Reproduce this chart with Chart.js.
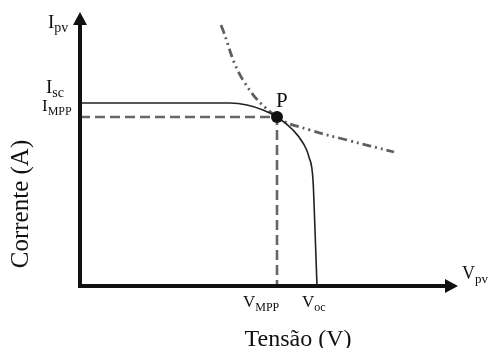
<!DOCTYPE html>
<html>
<head>
<meta charset="utf-8">
<script src="https://cdn.jsdelivr.net/npm/chart.js@4/dist/chart.umd.min.js"></script>
<style>
  html, body { margin: 0; padding: 0; background: #fff; }
  #wrap { width: 488px; height: 348px; position: relative; }
</style>
</head>
<body>
<div id="wrap"><canvas id="iv"></canvas></div>
<script>
// curva I-V do painel (tensão, corrente) em unidades arbitrárias
const ivTensao = [0, 150, 167, 183, 197, 213, 223, 229, 233, 235, 237];
const ivCorrente = [183, 183, 181, 176, 169, 156, 143, 129, 106, 56, 0];

// curva de potência constante passando por P
const potTensao = [141, 163, 197, 230, 267, 314];
const potCorrente = [261, 206, 169, 156, 146, 134];

// pontos notáveis
const Isc = 183;
const Impp = 169;
const Vmpp = 197;
const Voc = 237;
const eixoMax = { x: 378, y: 274 };

const serif = "'Liberation Serif', 'Times New Roman', serif";

function pares(xs, ys) {
  return xs.map(function (x, i) {
    return { x: x, y: ys[i] };
  });
}

// texto com subscrito: base + sub
function textoSub(ctx, base, sub, x, y, tam) {
  ctx.font = tam + "px " + serif;
  ctx.fillText(base, x, y);
  var w = ctx.measureText(base).width;
  ctx.font = Math.round(tam * 0.72) + "px " + serif;
  ctx.fillText(sub, x + w, y + tam * 0.22);
}

const eixosPlugin = {
  id: "eixos",
  afterDatasetsDraw(chart) {
    const ctx = chart.ctx;
    const sx = chart.scales.x;
    const sy = chart.scales.y;
    const x0 = sx.getPixelForValue(0);
    const y0 = sy.getPixelForValue(0);
    const xEnd = sx.getPixelForValue(eixoMax.x);
    const yEnd = sy.getPixelForValue(eixoMax.y);
    ctx.save();
    ctx.strokeStyle = "#111";
    ctx.fillStyle = "#111";
    ctx.lineWidth = 4;
    ctx.beginPath();
    ctx.moveTo(x0, y0);
    ctx.lineTo(x0, yEnd + 10);
    ctx.moveTo(x0 - 2, y0);
    ctx.lineTo(xEnd - 10, y0);
    ctx.stroke();
    // setas
    ctx.beginPath();
    ctx.moveTo(x0, yEnd);
    ctx.lineTo(x0 - 7, yEnd + 13);
    ctx.lineTo(x0 + 7, yEnd + 13);
    ctx.closePath();
    ctx.fill();
    ctx.beginPath();
    ctx.moveTo(xEnd, y0);
    ctx.lineTo(xEnd - 13, y0 - 7);
    ctx.lineTo(xEnd - 13, y0 + 7);
    ctx.closePath();
    ctx.fill();

    // ponto P
    const px = sx.getPixelForValue(Vmpp);
    const py = sy.getPixelForValue(Impp);
    ctx.beginPath();
    ctx.arc(px, py, 6, 0, Math.PI * 2);
    ctx.fill();

    // rótulos
    ctx.textBaseline = "alphabetic";
    ctx.textAlign = "left";
    textoSub(ctx, "I", "pv", x0 - 32, yEnd + 16, 19);
    textoSub(ctx, "I", "sc", x0 - 34, sy.getPixelForValue(Isc) - 10, 19);
    textoSub(ctx, "I", "MPP", x0 - 38, sy.getPixelForValue(Impp) - 6, 17);
    textoSub(ctx, "V", "MPP", px - 34, y0 + 21, 17);
    textoSub(ctx, "V", "oc", sx.getPixelForValue(Voc) - 15, y0 + 21, 17);
    textoSub(ctx, "V", "pv", xEnd + 4, y0 - 7, 18);
    ctx.font = "21px " + serif;
    ctx.fillText("P", px - 1, py - 10);

    ctx.textAlign = "center";
    ctx.font = "24px " + serif;
    ctx.fillText("Tensão (V)", 298, 346);
    ctx.translate(28, 204);
    ctx.rotate(-Math.PI / 2);
    ctx.font = "25px " + serif;
    ctx.fillText("Corrente (A)", 0, 0);
    ctx.restore();
  },
};

new Chart(document.getElementById("iv"), {
  type: "scatter",
  data: {
    datasets: [
      {
        data: pares(ivTensao, ivCorrente),
        showLine: true,
        borderColor: "#222",
        borderWidth: 1.6,
        pointRadius: 0,
        cubicInterpolationMode: "monotone",
      },
      {
        data: pares([0, Vmpp, Vmpp], [Impp, Impp, 0]),
        showLine: true,
        borderColor: "#666",
        borderWidth: 2.6,
        borderDash: [10, 5],
        pointRadius: 0,
      },
      {
        data: pares(potTensao, potCorrente),
        showLine: true,
        borderColor: "#5f5f5f",
        borderWidth: 2.8,
        borderDash: [9, 4, 2, 4, 2, 4],
        pointRadius: 0,
        tension: 0.4,
      },
    ],
  },
  options: {
    responsive: true,
    maintainAspectRatio: false,
    animation: false,
    layout: { padding: { left: 80, right: 30, top: 12, bottom: 62 } },
    scales: {
      x: { type: "linear", min: 0, max: eixoMax.x, display: false },
      y: { type: "linear", min: 0, max: eixoMax.y, display: false },
    },
    plugins: {
      legend: { display: false },
      tooltip: { enabled: false },
    },
  },
  plugins: [eixosPlugin],
});
</script>
</body>
</html>
